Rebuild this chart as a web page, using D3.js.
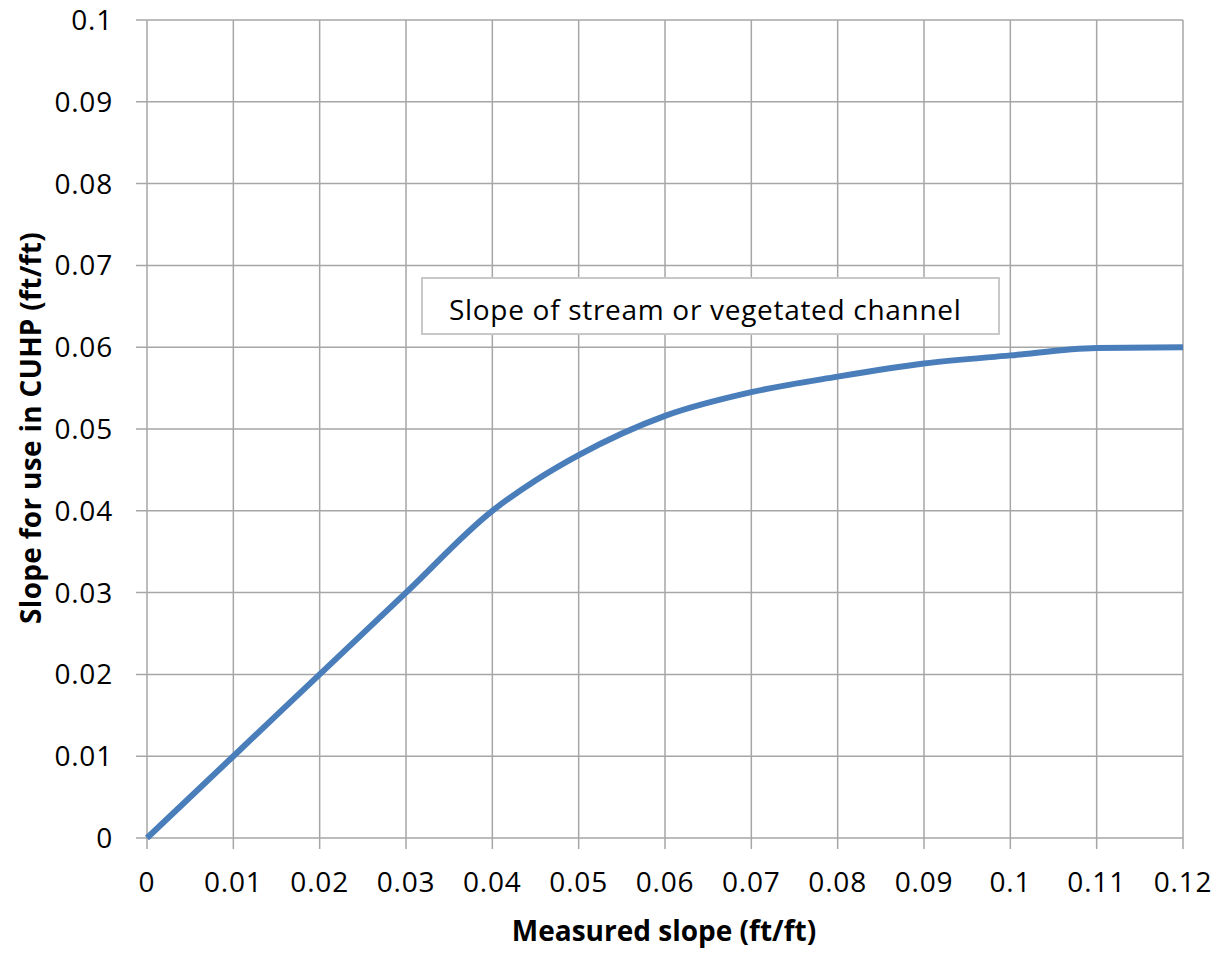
<!DOCTYPE html>
<html><head><meta charset="utf-8">
<script src="https://cdn.jsdelivr.net/npm/d3@7"></script>
<style>body{margin:0;background:#fff}svg{display:block}</style>
</head><body>
<svg id="c" width="1226" height="953"></svg>
<script>
const measured = [0, 0.01, 0.02, 0.03, 0.04, 0.045, 0.05, 0.06, 0.07, 0.08, 0.09, 0.1, 0.11, 0.12];
const cuhpSlope = [0, 0.01, 0.02, 0.03, 0.04, 0.0437, 0.0468, 0.0516, 0.0545, 0.0564, 0.058, 0.059, 0.0599, 0.06];
const xTicks = [0,0.01,0.02,0.03,0.04,0.05,0.06,0.07,0.08,0.09,0.1,0.11,0.12];
const yTicks = [0,0.01,0.02,0.03,0.04,0.05,0.06,0.07,0.08,0.09,0.1];
const seriesName = "Slope of stream or vegetated channel";
const xTitle = "Measured slope (ft/ft)";
const yTitle = "Slope for use in CUHP (ft/ft)";

const svg = d3.select("#c");
const L = 147, R = 1183, T = 20, B = 838;
const x = d3.scaleLinear().domain([0, 0.12]).range([L, R]);
const y = d3.scaleLinear().domain([0, 0.1]).range([B, T]);
const font = "'Open Sans', sans-serif";
const grid = "#a6a6a6";

// grid lines
svg.append("g").selectAll("line").data(xTicks).join("line")
  .attr("x1", d => x(d)).attr("x2", d => x(d)).attr("y1", T).attr("y2", B + 11)
  .attr("stroke", grid).attr("stroke-width", 1.5);
svg.append("g").selectAll("line").data(yTicks).join("line")
  .attr("y1", d => y(d)).attr("y2", d => y(d)).attr("x1", L - 11).attr("x2", R)
  .attr("stroke", grid).attr("stroke-width", 1.5);

// axes labels
const fmt = d => String(+d.toFixed(2));
svg.append("g").selectAll("text").data(xTicks).join("text")
  .attr("x", d => x(d)).attr("y", 892).attr("text-anchor", "middle")
  .attr("font-family", font).attr("font-size", 28).attr("letter-spacing", 0.8).attr("fill", "#000")
  .text(fmt);
svg.append("g").selectAll("text").data(yTicks).join("text")
  .attr("x", 113).attr("y", d => y(d) + 10).attr("text-anchor", "end")
  .attr("font-family", font).attr("font-size", 28).attr("letter-spacing", 0.8).attr("fill", "#000")
  .text(fmt);

// titles
svg.append("text").attr("x", 664).attr("y", 941).attr("text-anchor", "middle")
  .attr("font-family", font).attr("font-size", 28).attr("font-weight", "bold").text(xTitle);
svg.append("text").attr("transform", "translate(41,428) rotate(-90)").attr("text-anchor", "middle")
  .attr("font-family", font).attr("font-size", 28).attr("letter-spacing", 0.3).attr("font-weight", "bold").text(yTitle);

// line
const data = measured.map((m, i) => [m, cuhpSlope[i]]);
svg.append("path").datum(data)
  .attr("d", d3.line().x(d => x(d[0])).y(d => y(d[1])).curve(d3.curveMonotoneX))
  .attr("fill", "none").attr("stroke", "#4a7ebb").attr("stroke-width", 6);

// legend box
svg.append("rect").attr("x", 422).attr("y", 278).attr("width", 577).attr("height", 56)
  .attr("fill", "#fff").attr("stroke", "#c8c8c8").attr("stroke-width", 2);
svg.append("text").attr("x", 449).attr("y", 320)
  .attr("font-family", font).attr("font-size", 28).attr("letter-spacing", 0.7).attr("fill", "#000").text(seriesName);
</script>
</body></html>
